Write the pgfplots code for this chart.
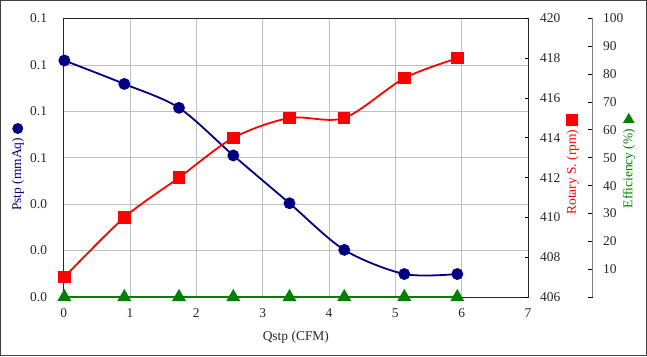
\documentclass[border=0pt]{standalone}
\usepackage{pgfplots}
\pgfplotsset{compat=1.18}
\usepackage{fontspec}
\setmainfont{Liberation Serif}
\definecolor{navy}{RGB}{0,0,128}
\definecolor{dgreen}{RGB}{0,128,0}
\definecolor{gridgray}{RGB}{191,191,191}
\definecolor{framegray}{RGB}{64,64,64}
\begin{document}
\fontsize{13.5}{16}\selectfont
\begin{tikzpicture}[x=1bp,y=1bp]
\path[use as bounding box] (0,0) rectangle (647,356);
\draw[framegray, line width=1.2bp] (0.6,0.6) rectangle (646.4,355.4);
\pgfplotsset{
  base/.style={
    scale only axis, width=464.3bp, height=278.5bp,
    at={(63.7bp,59bp)}, anchor=south west,
    xmin=0, xmax=7, clip=false,
    /pgf/number format/assume math mode=true,
    tick label style={font=\fontsize{13.5}{16}\selectfont, text=black!85},
    label style={font=\fontsize{13.5}{16}\selectfont},
  }
}
% main axis: Pstp
\begin{axis}[base,
  ymin=0, ymax=0.12,
  ytick={0,0.02,0.04,0.06,0.08,0.1,0.12},
  yticklabels={0.0,0.0,0.0,0.1,0.1,0.1,0.1},
  xtick={0,1,2,3,4,5,6,7},
  grid=major, major grid style={gridgray, line width=0.8bp},
  axis line style={black!85, line width=0.9bp},
  major tick length=0pt,
  yticklabel style={xshift=-12bp},
  xticklabel style={yshift=-7bp},
  xlabel={Qstp (CFM)},
  xlabel style={at={(axis description cs:0.5,-0.145)}, anchor=center, text=black!85},
  ylabel={Pstp (mmAq)\hspace{4bp}\tikz[baseline=-3.5bp]\fill[navy] (0,0) circle (5.5bp);},
  ylabel style={at={(axis description cs:-0.0984,0.467)}, anchor=center, text=navy},
]
\addplot[navy, line width=1.8bp, smooth, mark=*, mark size=5bp, mark options={solid, fill=navy}]
  coordinates {(0.01,0.1019) (0.914,0.0918) (1.738,0.0815) (2.557,0.0610) (3.404,0.0404) (4.230,0.0203) (5.135,0.0099) (5.934,0.0099)};
\end{axis}
% Rotary speed axis
\begin{axis}[base,
  axis x line=none, axis y line*=right,
  ymin=406, ymax=420, ytick={406,408,...,420},
  tick align=inside, major tick length=3bp,
  ytick style={black, line width=0.8bp},
  axis line style={black!85, line width=0.9bp},
  yticklabel style={xshift=7.5bp},
  ylabel={Rotary S. (rpm)\hspace{4bp}\tikz[baseline=-3.5bp]\fill[red] (-5.8bp,-5.8bp) rectangle (5.8bp,5.8bp);},
  ylabel style={at={(axis description cs:1.096,0.476)}, anchor=center, rotate=0, text=red},
]
\addplot[red, line width=1.8bp, smooth, mark=square*, mark size=5.3bp, mark options={solid, fill=red}]
  coordinates {(0.01,407.0) (0.914,410.0) (1.738,412.0) (2.557,414.0) (3.404,415.0) (4.230,415.0) (5.135,417.0) (5.934,418.0)};
\end{axis}
% Efficiency axis
\begin{axis}[base,
  axis x line=none, axis y line*=right,
  ymin=0, ymax=100, ytick={0,10,...,100},
  yticklabels={,10,20,30,40,50,60,70,80,90,100},
  tick align=inside, major tick length=5bp,
  every outer y axis line/.append style={xshift=64.7bp},
  axis line style={gray, line width=1.3bp},
  ytick style={xshift=64.7bp, black, line width=1bp},
  yticklabel style={xshift=70.5bp},
  ylabel={Efficiency (\%)\hspace{6bp}\tikz[baseline=-3.5bp]\fill[dgreen] (-5bp,-5.8bp) -- (-5bp,5.8bp) -- (5bp,0) -- cycle;},
  ylabel style={at={(axis description cs:1.2175,0.49)}, anchor=center, text=dgreen},
]
\addplot[dgreen, line width=2.6bp, mark=triangle*, mark size=5.5bp, mark options={solid, fill=dgreen}]
  coordinates {(0.01,0) (0.914,0) (1.738,0) (2.557,0) (3.404,0) (4.230,0) (5.135,0) (5.934,0)};
\end{axis}
\end{tikzpicture}
\end{document}
